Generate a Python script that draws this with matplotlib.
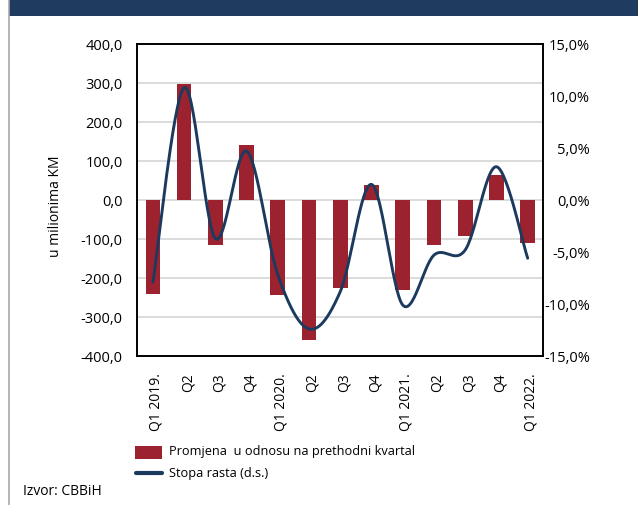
import numpy as np
import matplotlib
matplotlib.use("Agg")
import matplotlib.pyplot as plt
import matplotlib.transforms as mtransforms
from matplotlib.patches import Rectangle
from matplotlib.lines import Line2D

plt.rcParams['font.family'] = ['Open Sans', 'DejaVu Sans']

# Quarterly data
quarters = ["Q1 2019.", "Q2", "Q3", "Q4", "Q1 2020.", "Q2", "Q3", "Q4",
            "Q1 2021.", "Q2", "Q3", "Q4", "Q1 2022."]
change_mkm = [-241, 298, -115, 140, -243, -358, -226, 38, -232, -115, -92, 63, -109]
growth_pct = [-7.9, 10.8, -3.7, 4.7, -7.2, -12.4, -8.8, 1.5, -10.1, -5.3, -4.8, 3.2, -5.6]
left_ticks = [-400, -300, -200, -100, 0, 100, 200, 300, 400]
right_ticks = [-15, -10, -5, 0, 5, 10, 15]

BAR_COLOR = "#9c2230"
LINE_COLOR = "#1c3a5e"
HEADER_COLOR = "#1f3b60"
GRID_COLOR = "#d9dddc"


def smooth_curve(xs, ys, steps=30):
    """Smoothed line through the points using cubic Bezier segments."""
    pts = np.column_stack([xs, ys]).astype(float)
    n = len(pts)
    out = []
    for i in range(n - 1):
        p0 = pts[i - 1] if i > 0 else pts[i]
        p1 = pts[i]
        p2 = pts[i + 1]
        p3 = pts[i + 2] if i + 2 < n else pts[i + 1]
        c1 = p1 + (p2 - p0) / 6.0
        c2 = p2 - (p3 - p1) / 6.0
        t = np.linspace(0, 1, steps, endpoint=(i == n - 2))[:, None]
        seg = ((1 - t) ** 3) * p1 + 3 * ((1 - t) ** 2) * t * c1 \
            + 3 * (1 - t) * (t ** 2) * c2 + (t ** 3) * p2
        out.append(seg)
    out = np.vstack(out)
    return out[:, 0], out[:, 1]


W, H = 638, 506
fig = plt.figure(figsize=(W / 100, H / 100), dpi=100)

# Header band and left frame rule
fig.patches.append(Rectangle((9 / W, 1 - 17 / H), 1 - 9 / W, 17 / H,
                             transform=fig.transFigure, facecolor=HEADER_COLOR,
                             edgecolor="none", zorder=0))
fig.lines.append(Line2D([8.5 / W, 8.5 / W], [0, 1], transform=fig.transFigure,
                        color="#a9a9a9", lw=1.2))

ax_left, ax_right_px = 137.3, 543.3
ax_top, ax_bot = 45, 357
ax = fig.add_axes([ax_left / W, 1 - ax_bot / H, (ax_right_px - ax_left) / W,
                   (ax_bot - ax_top) / H])
ax2 = ax.twinx()

x = np.arange(len(quarters))
ax.bar(x, change_mkm, width=0.47, color=BAR_COLOR, zorder=2)
ax.set_xlim(-0.5, len(quarters) - 0.5)
ax.set_ylim(left_ticks[0], left_ticks[-1])
ax.set_yticks(left_ticks)
ax.set_yticklabels([f"{v:.1f}".replace(".", ",") for v in left_ticks], fontsize=10.5)
for v in left_ticks[1:-1]:
    ax.axhline(v, color=GRID_COLOR, lw=1.4, zorder=1)

sx, sy = smooth_curve(x, growth_pct)
ax2.plot(sx, sy, color=LINE_COLOR, lw=2.1, solid_capstyle="round", zorder=3)
ax2.set_ylim(right_ticks[0], right_ticks[-1])
ax2.set_yticks(right_ticks)
ax2.set_yticklabels([f"{v:.1f}".replace(".", ",") + "%" for v in right_ticks],
                    fontsize=10.5)

for a in (ax, ax2):
    for s in a.spines.values():
        s.set_color("black")
        s.set_linewidth(1.2)
    a.tick_params(length=0)

ax.tick_params(axis="y", pad=10.5)
ax2.tick_params(axis="y", pad=33.5)
for lab in ax2.get_yticklabels():
    lab.set_horizontalalignment("right")

ax.set_xticks(x)
ax.set_xticklabels(quarters, rotation=90, fontsize=10, va="top", ha="center")
ax.tick_params(axis="x", pad=11.5)
shift = mtransforms.ScaledTranslation(3.5 / 100, 0, fig.dpi_scale_trans)
for lab in ax.get_xticklabels():
    lab.set_transform(lab.get_transform() + shift)

fig.text(55 / W, 1 - 206 / H, "u milionima KM", rotation=90, ha="center",
         va="center", fontsize=10)

# Legend
fig.patches.append(Rectangle((135 / W, 1 - 460 / H), 27 / W, 13 / H,
                             transform=fig.transFigure, facecolor=BAR_COLOR,
                             edgecolor="none"))
fig.text(169 / W, 1 - 452 / H, "Promjena  u odnosu na prethodni kvartal",
         ha="left", va="center", fontsize=9.2)
fig.lines.append(Line2D([136 / W, 162 / W], [1 - 474 / H, 1 - 474 / H],
                        transform=fig.transFigure, color=LINE_COLOR, lw=3,
                        solid_capstyle="round"))
fig.text(169 / W, 1 - 473 / H, "Stopa rasta (d.s.)", ha="left", va="center",
         fontsize=9.2)

fig.text(23 / W, 1 - 492 / H, "Izvor: CBBiH", ha="left", va="center", fontsize=10)

fig.savefig("out.png", dpi=100)
